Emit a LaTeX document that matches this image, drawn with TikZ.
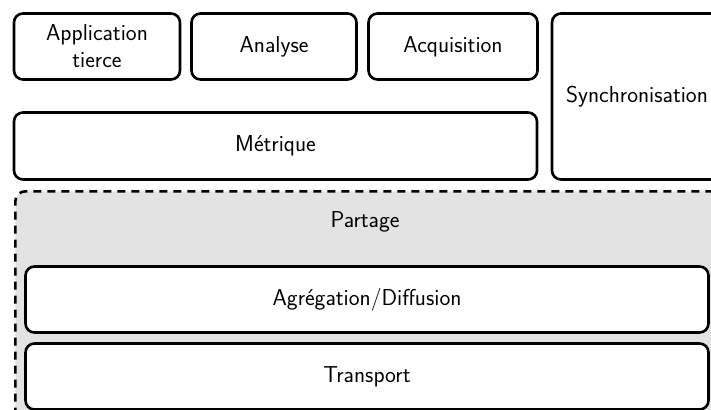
\documentclass[tikz,border=0pt]{standalone}
\usepackage{fontspec}
\setsansfont{Latin Modern Sans}
\begin{document}
\begin{tikzpicture}[x=1pt,y=1pt,
  layer/.style={draw, line width=2.6pt, rounded corners=9pt, fill=white,
    align=center, inner sep=0pt, font=\fontsize{23}{27}\selectfont\sffamily},
  groupbox/.style={draw, line width=2.6pt, rounded corners=10pt, fill=black!11,
    dash pattern=on 8pt off 6pt},
  caption/.style={font=\fontsize{23}{27}\selectfont\sffamily, inner sep=0pt}]
\useasboundingbox (0,0) rectangle (711,-409);
\clip (0,0) rectangle (711,-409);

% shared layer (dashed container)
\node[groupbox, minimum width=708pt, minimum height=232pt, anchor=north west] (share) at (14,-190) {};
\node[caption] (sharelbl) at (365,-222) {Partage};

% top row
\node[layer, minimum width=166pt, minimum height=66pt] (app) at (97,-46.5) {Application\\tierce};
\node[layer, minimum width=165pt, minimum height=66pt] (ana) at (274,-46.5) {Analyse};
\node[layer, minimum width=169pt, minimum height=66pt] (acq) at (453,-46.5) {Acquisition};
\node[layer, minimum width=170pt, minimum height=166pt] (sync) at (637,-96.5) {Synchronisation};

% metric layer
\node[layer, minimum width=523pt, minimum height=67pt] (met) at (275.5,-146) {Métrique};

% inner layers of the shared block
\node[layer, minimum width=683pt, minimum height=66pt] (agr) at (367,-299.5) {Agrégation/Diffusion};
\node[layer, minimum width=683pt, minimum height=66pt] (trans) at (367,-376.5) {Transport};
\end{tikzpicture}
\end{document}
